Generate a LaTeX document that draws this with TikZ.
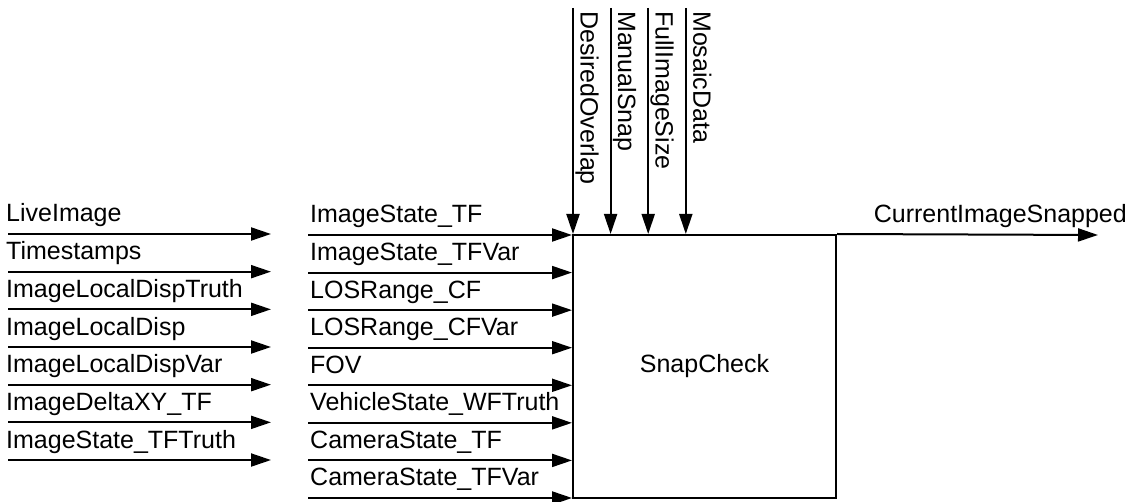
\documentclass[tikz,border=0pt]{standalone}
\usepackage{fontspec}
\setmainfont{Liberation Sans}
\usetikzlibrary{arrows.meta}
\tikzset{
  wire/.style={line width=2pt, -{Triangle[length=20pt,width=13pt]}},
  lbl/.style={inner sep=0pt, anchor=base west, font=\fontsize{25}{30}\selectfont},
  vlbl/.style={inner sep=0pt, anchor=base west, rotate=-90, font=\fontsize{25}{30}\selectfont},
  blockbox/.style={draw, line width=2pt, minimum width=263pt, minimum height=263pt, font=\fontsize{25}{30}\selectfont}
}
\begin{document}
\begin{tikzpicture}[x=1pt,y=-1pt]
\useasboundingbox (0,0) rectangle (1138,502);
\node[blockbox] (snap) at (704.5,366.5) {SnapCheck};
% left column
\foreach \t [count=\i from 0] in {LiveImage,Timestamps,ImageLocalDispTruth,ImageLocalDisp,ImageLocalDispVar,ImageDeltaXY\_TF,ImageState\_TFTruth}{
  \coordinate (ls\i) at (8,234+\i*37.67);
  \coordinate (le\i) at (271,234+\i*37.67);
  \node[lbl] (ll\i) at (6,222+\i*37.67) {\t};
  \draw[wire] (ls\i) -- (le\i);
}
% middle column
\foreach \t [count=\i from 0] in {ImageState\_TF,ImageState\_TFVar,LOSRange\_CF,LOSRange\_CFVar,FOV,VehicleState\_WFTruth,CameraState\_TF,CameraState\_TFVar}{
  \coordinate (ms\i) at (308,235+\i*37.57);
  \node[lbl] (ml\i) at (310,223+\i*37.57) {\t};
  \draw[wire] (ms\i) -- (snap.west |- ms\i);
}
% top inputs
\foreach \t [count=\i from 0] in {DesiredOverlap,ManualSnap,FullImageSize,MosaicData}{
  \coordinate (ts\i) at (573+\i*37.6,8);
  \node[vlbl] (tl\i) at (580.5+\i*37.6,11) {\t};
  \draw[wire] (ts\i) -- (ts\i |- snap.north);
}
% output
\coordinate (oe) at (1098,235);
\node[lbl, anchor=base east] (ol) at (1127,223) {CurrentImageSnapped};
\draw[wire] (snap.north east) -- (oe);
\end{tikzpicture}
\end{document}
